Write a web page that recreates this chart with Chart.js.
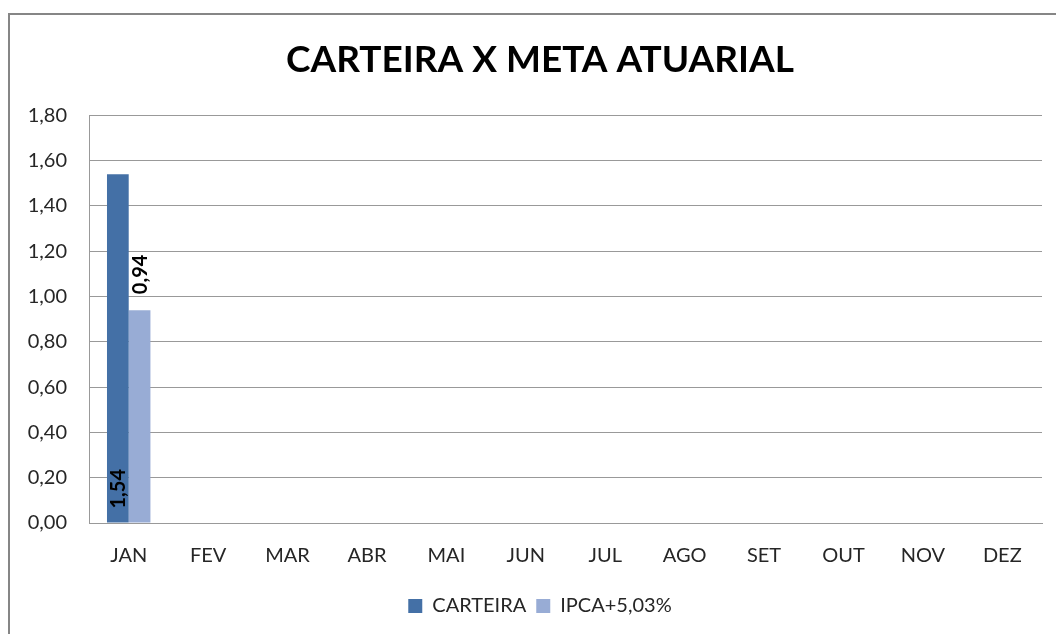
<!DOCTYPE html>
<html>
<head>
<meta charset="utf-8">
<script src="https://cdn.jsdelivr.net/npm/chart.js@4.4.1/dist/chart.umd.min.js"></script>
<style>
  html, body { margin: 0; padding: 0; background: #fff; }
  #wrap { position: relative; width: 1056px; height: 634px; }
</style>
</head>
<body>
<div id="wrap"><canvas id="c" width="1056" height="634"></canvas></div>
<script>
const categories = ['JAN', 'FEV', 'MAR', 'ABR', 'MAI', 'JUN', 'JUL', 'AGO', 'SET', 'OUT', 'NOV', 'DEZ'];
const carteira = [1.54, null, null, null, null, null, null, null, null, null, null, null];
const ipca = [0.94, null, null, null, null, null, null, null, null, null, null, null];
const seriesNames = ['CARTEIRA', 'IPCA+5,03%'];
const titleText = 'CARTEIRA X META ATUARIAL';
const yMin = 0, yMax = 1.8, yStep = 0.2;

const fmt = v => v.toFixed(2).replace('.', ',');

const framePlugin = {
  id: 'frame',
  afterLayout(chart) {
    // center title and legend on the whole frame, like the original
    [chart.titleBlock, chart.legend].forEach(b => {
      if (!b) return;
      b.left = 38; b.right = 1042; b.width = 1004;
    });
  },
  beforeDraw(chart) {
    const ctx = chart.ctx;
    ctx.save();
    ctx.fillStyle = '#fff';
    ctx.fillRect(0, 0, chart.width, chart.height);
    ctx.strokeStyle = '#868686';
    ctx.lineWidth = 2;
    ctx.beginPath();
    ctx.moveTo(9, 700);
    ctx.lineTo(9, 14);
    ctx.lineTo(1100, 14);
    ctx.stroke();
    ctx.restore();
  }
};

const labelPlugin = {
  id: 'rotLabels',
  afterDatasetsDraw(chart) {
    const ctx = chart.ctx;
    ctx.save();
    ctx.font = 'bold 20px Lato';
    ctx.fillStyle = '#000';
    ctx.textAlign = 'left';
    ctx.textBaseline = 'middle';
    chart.data.datasets.forEach((ds, di) => {
      const meta = chart.getDatasetMeta(di);
      meta.data.forEach((el, i) => {
        const v = ds.data[i];
        if (v === null || v === undefined) return;
        let x, y;
        if (di === 0) { x = el.x + 1; y = el.base - 14; }
        else { x = el.x + 1; y = el.y - 16; }
        ctx.save();
        ctx.translate(x, y);
        ctx.rotate(-Math.PI / 2);
        ctx.fillText(fmt(v), 0, 0);
        ctx.restore();
      });
    });
    ctx.restore();
  }
};

new Chart(document.getElementById('c'), {
  type: 'bar',
  data: {
    labels: categories,
    datasets: [
      { label: seriesNames[0], data: carteira, backgroundColor: '#4470A6', borderWidth: 0 },
      { label: seriesNames[1], data: ipca, backgroundColor: '#98ACD5', borderWidth: 0 }
    ]
  },
  options: {
    responsive: false,
    animation: false,
    devicePixelRatio: 1,
    datasets: { bar: { categoryPercentage: 0.547, barPercentage: 1.0 } },
    layout: { padding: { left: 0, right: 14, top: 0, bottom: 8 } },
    plugins: {
      tooltip: { enabled: false },
      title: {
        display: true,
        text: titleText,
        color: '#000',
        font: { family: 'Lato', size: 37, weight: 'bold' },
        padding: { top: 38, bottom: 33 }
      },
      legend: {
        display: true,
        position: 'bottom',
        labels: {
          color: '#262626',
          font: { family: 'Lato', size: 20 },
          boxWidth: 14,
          boxHeight: 14,
          padding: 10
        }
      }
    },
    scales: {
      x: {
        grid: { display: false, drawTicks: false },
        border: { display: true, color: '#999', width: 1 },
        ticks: { color: '#262626', font: { family: 'Lato', size: 20 }, padding: 21, maxRotation: 0, autoSkip: false },
        afterFit(s) { s.height = 63; }
      },
      y: {
        min: yMin, max: yMax,
        grid: { color: '#999', drawTicks: false },
        border: { display: true, color: '#999', width: 1 },
        ticks: {
          stepSize: yStep,
          color: '#262626',
          font: { family: 'Lato', size: 20 },
          padding: 22,
          callback: v => fmt(v)
        },
        afterFit(s) { s.width = 89; }
      }
    }
  },
  plugins: [framePlugin, labelPlugin]
});
</script>
</body>
</html>
